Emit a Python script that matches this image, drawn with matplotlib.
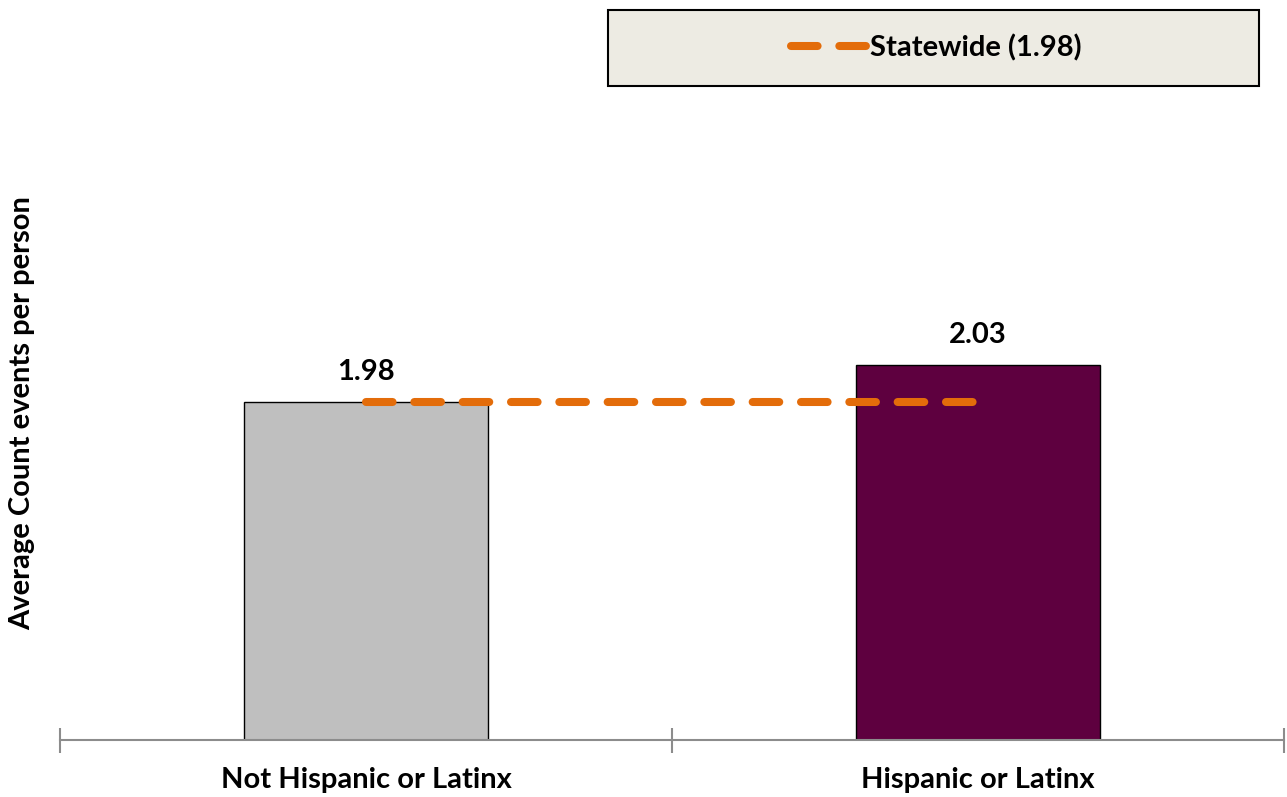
import matplotlib.pyplot as plt
from matplotlib.patches import Rectangle

plt.rcParams["font.family"] = ["Lato", "DejaVu Sans"]
plt.rcParams["font.weight"] = "bold"

# data
categories = ["Not Hispanic or Latinx", "Hispanic or Latinx"]
values = [1.98, 2.03]
statewide = 1.98
bar_colors = ["#BFBFBF", "#5E003F"]

W, H = 1287, 797
fig = plt.figure(figsize=(W / 100, H / 100), dpi=100)
ax = fig.add_axes([60 / W, 1 - 740 / H, 1224 / W, (740 - 100) / H])

x = list(range(len(categories)))
ax.bar(x, values, width=0.4, color=bar_colors, edgecolor="black", linewidth=1.0, zorder=2)

for xi, v in zip(x, values):
    ax.annotate(f"{v:.2f}", (xi, v), xytext=(0, 12), textcoords="offset points",
                ha="center", va="bottom", fontsize=21, fontweight="bold")

line, = ax.plot(x, [statewide] * len(x), color="#E36C0A", lw=5.8,
                solid_capstyle="round", dash_capstyle="round", zorder=3,
                label=f"Statewide ({statewide:.2f})")
line.set_dashes((3.3, 2.7))

y0 = 1.527
ax.set_xlim(-0.5, 1.5)
ax.set_ylim(y0, y0 + 640 / 746)

for s in ["top", "right", "left"]:
    ax.spines[s].set_visible(False)
ax.spines["bottom"].set_color("#8C8C8C")
ax.spines["bottom"].set_linewidth(1.5)
ax.set_yticks([])

# category boundary ticks crossing the baseline
ax.set_xticks([-0.5, 0.5, 1.5])
ax.set_xticklabels([])
ax.tick_params(axis="x", direction="inout", length=18, width=1.5, color="#8C8C8C")
for xi, c in zip(x, categories):
    ax.text(xi, -40 / 640, c, transform=ax.get_xaxis_transform(), ha="center", va="center",
            fontsize=21, fontweight="bold")

fig.text(22 / W, 1 - 413 / H, "Average Count events per person", rotation=90,
         ha="center", va="center", fontsize=21, fontweight="bold")

# legend box
fig.patches.append(Rectangle((608 / W, 1 - 86 / H), 651 / W, 76 / H, transform=fig.transFigure,
                             facecolor="#EDEBE3", edgecolor="black", linewidth=1.5, zorder=0))
fig.legend(handles=[line], loc="center", bbox_to_anchor=(936 / W, 1 - 48 / H),
           frameon=False, handlelength=2.6, handletextpad=0.1,
           prop={"weight": "bold", "size": 21})

fig.savefig("out.png", dpi=100)
